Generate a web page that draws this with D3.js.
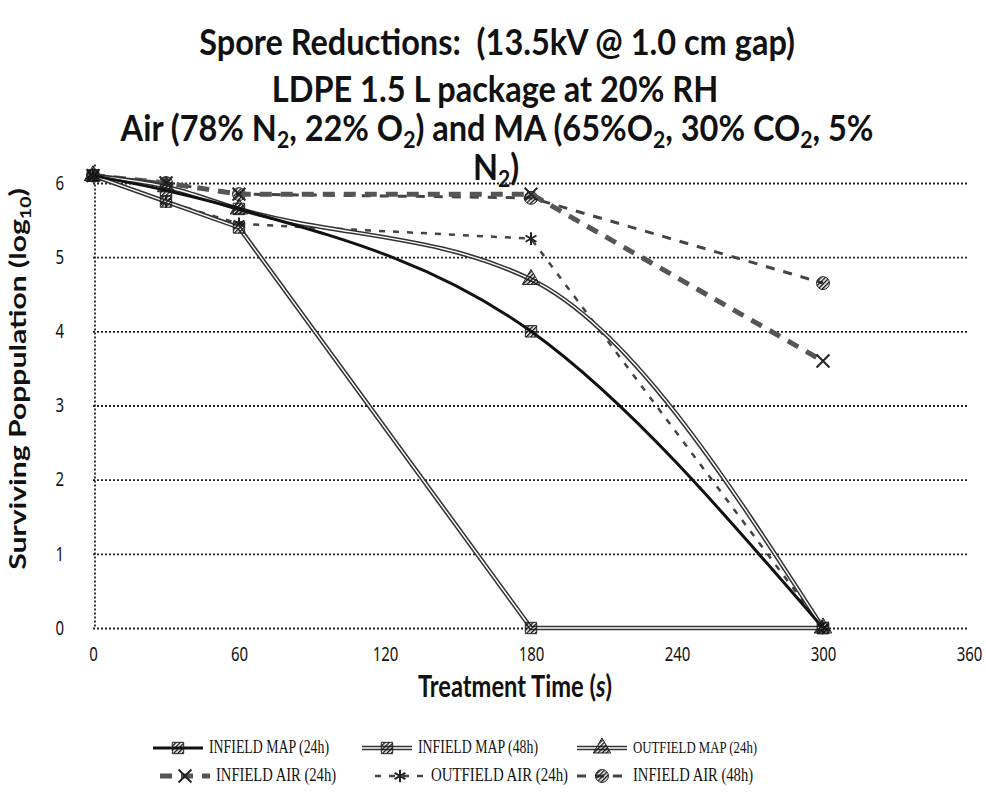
<!DOCTYPE html>
<html>
<head>
<meta charset="utf-8">
<script src="https://cdnjs.cloudflare.com/ajax/libs/d3/7.8.5/d3.min.js"></script>
<style>
  body { margin: 0; background: #fff; }
  text { fill: #111; }
</style>
</head>
<body>
<div id="chart-area"></div>
<script>
// data (log10 surviving population)
let times = [0, 30, 60, 180, 300]
let infieldMap24 = [6.1, 5.9, 5.65, 4.0, 0]
let infieldMap48 = [6.1, 5.75, 5.4, 0, 0]
let outfieldMap24 = [6.1, 5.95, 5.65, 4.7, 0]
let infieldAir24 = [6.1, 6.0, 5.85, 5.85, 3.6]
let outfieldAir24 = [6.1, 5.75, 5.45, 5.25, 0]
let infieldAir48 = [6.1, 6.0, 5.85, 5.8, 4.65]
let seriesNames = ["INFIELD MAP (24h)", "INFIELD MAP (48h)", "OUTFIELD MAP (24h)",
  "INFIELD AIR (24h)", "OUTFIELD AIR (24h)", "INFIELD AIR (48h)"]
let xTicks = [0, 60, 120, 180, 240, 300, 360]
let yTicks = [0, 1, 2, 3, 4, 5, 6]

let svg = d3.select("#chart-area").append("svg")
  .attr("width", 986)
  .attr("height", 793)

// hatch pattern to mimic the scanned markers
let defs = svg.append("defs")
defs.append("pattern")
  .attr("id", "hatch")
  .attr("width", 3)
  .attr("height", 3)
  .attr("patternUnits", "userSpaceOnUse")
  .attr("patternTransform", "rotate(45)")
  .append("rect")
    .attr("width", 1.4)
    .attr("height", 3)
    .attr("fill", "#111")

let x = d3.scaleLinear().domain([0, 360]).range([93, 969])
let y = d3.scaleLinear().domain([0, 6]).range([628, 183])

// the scan is stretched vertically, so text is drawn a bit tall
let stretch = 1.3
let titleStretch = 1.1
let titleFont = "Lato, 'Open Sans', sans-serif"

// scale a text's font so it spans a given width
const fitText = (sel, target, size) => {
  sel.style("font-size", size + "px")
  let w = sel.node().getComputedTextLength()
  let s = size * target / w
  sel.style("font-size", s + "px")
  return s
}

// text with subscripts: parts = [[str, isSub], ...]
const richText = (sel, parts) => {
  let afterSub = false
  parts.forEach(p => {
    if (p[1]) {
      sel.append("tspan").attr("dy", "0.3em").style("font-size", "65%").text(p[0])
      afterSub = true
    } else {
      sel.append("tspan").attr("dy", afterSub ? "-0.195em" : null).text(p[0])
      afterSub = false
    }
  })
}

const titleLine = (xPos, yPos) => {
  return svg.append("text")
    .attr("transform", "translate(" + xPos + "," + yPos + ") scale(1," + titleStretch + ")")
    .attr("text-anchor", "middle")
    .style("font-family", titleFont).style("font-weight", "bold")
}

// titles (Excel wrapped the long third line)
let t1 = titleLine(497, 55).attr("xml:space", "preserve")
  .text("Spore Reductions:  (13.5kV @ 1.0 cm gap)")
let titleSize = fitText(t1, 596, 26)

titleLine(495, 102).style("font-size", titleSize + "px")
  .text("LDPE 1.5 L package at 20% RH")

let t3 = titleLine(497, 141).style("font-size", titleSize + "px")
richText(t3, [["Air (78% N", 0], ["2", 1], [", 22% O", 0], ["2", 1], [") and MA (65%O", 0], ["2", 1],
  [", 30% CO", 0], ["2", 1], [", 5%", 0]])

let t4 = titleLine(496, 180).style("font-size", titleSize + "px")
richText(t4, [["N", 0], ["2", 1], [")", 0]])

// gridlines + y axis
let yAxisGroup = svg.append("g")
  .attr("transform", "translate(" + x(0) + ",0)")
  .call(d3.axisLeft(y).tickValues(yTicks).tickFormat(d3.format("d"))
    .tickSize(-(x(360) - x(0))).tickPadding(29))
yAxisGroup.select(".domain").remove()
yAxisGroup.selectAll(".tick line")
  .attr("stroke", "#222")
  .attr("stroke-width", 1.8)
  .attr("stroke-dasharray", "2,2")
yAxisGroup.selectAll(".tick text")
  .attr("transform", "scale(1," + stretch + ")")
  .style("font-family", "'Noto Sans', sans-serif")
  .style("font-size", "15px")
  .attr("fill", "#222")

svg.append("line")
  .attr("x1", x(0) + 2).attr("x2", x(0) + 2)
  .attr("y1", y(6.25)).attr("y2", y(0))
  .attr("stroke", "#222")
  .attr("stroke-width", 1.8)
  .attr("stroke-dasharray", "2,2")

let xAxisGroup = svg.append("g")
  .attr("transform", "translate(0," + y(0) + ")")
  .call(d3.axisBottom(x).tickValues(xTicks).tickSize(0).tickPadding(15))
xAxisGroup.select(".domain").remove()
xAxisGroup.selectAll(".tick text")
  .attr("transform", "scale(1," + stretch + ")")
  .style("font-family", "'Noto Sans', sans-serif")
  .style("font-size", "15px")
  .attr("fill", "#222")

// axis titles
let yLabel = svg.append("text")
  .attr("text-anchor", "middle")
  .style("font-family", titleFont).style("font-weight", "bold")
richText(yLabel, [["Surviving Poppulation (log", 0], ["10", 1], [")", 0]])
fitText(yLabel, 382 / stretch, 18)
yLabel.attr("transform", "translate(26,379) rotate(-90) scale(" + stretch + ",1)")

let xLabel = svg.append("text")
  .attr("transform", "translate(515,697) scale(1," + stretch + ")")
  .attr("text-anchor", "middle")
  .style("font-family", titleFont).style("font-weight", "bold")
xLabel.append("tspan").text("Treatment Time (")
xLabel.append("tspan").style("font-style", "italic").text("s")
xLabel.append("tspan").text(")")
fitText(xLabel, 194, 18)

// series styles
let styles = [
  { values: infieldMap24, outline: false, width: 3, color: "#111", dash: null, marker: d3.symbolSquare, fill: "url(#hatch)", curve: d3.curveMonotoneX },
  { values: infieldMap48, outline: true, width: 4.5, color: "#333", dash: null, marker: d3.symbolSquare, fill: "url(#hatch)", curve: d3.curveLinear },
  { values: outfieldMap24, outline: true, width: 4.5, color: "#333", dash: null, marker: d3.symbolTriangle, fill: "url(#hatch)", curve: d3.curveMonotoneX },
  { values: infieldAir24, outline: false, width: 5, color: "#555", dash: "12,9", marker: d3.symbolX, fill: "none", curve: d3.curveLinear },
  { values: outfieldAir24, outline: false, width: 2.5, color: "#444", dash: "6,8", marker: d3.symbolAsterisk, fill: "none", curve: d3.curveLinear },
  { values: infieldAir48, outline: false, width: 3, color: "#444", dash: "9,9", marker: d3.symbolCircle, fill: "url(#hatch)", curve: d3.curveLinear }
]

const drawLine = (g, s, pts, curve) => {
  let line = d3.line().x(d => d[0]).y(d => d[1]).curve(curve)
  g.append("path")
    .attr("d", line(pts))
    .attr("fill", "none")
    .attr("stroke", s.color)
    .attr("stroke-width", s.width)
    .attr("stroke-dasharray", s.dash)
  if (s.outline) {
    g.append("path")
      .attr("d", line(pts))
      .attr("fill", "none")
      .attr("stroke", "#fff")
      .attr("stroke-width", 1.4)
  }
}

const drawMarker = (g, s, px, py) => {
  let stroked = s.marker === d3.symbolX || s.marker === d3.symbolAsterisk
  g.append("path")
    .attr("d", d3.symbol().type(s.marker).size(stroked ? 110 : 130)())
    .attr("transform", "translate(" + px + "," + py + ")")
    .attr("fill", stroked ? "none" : s.fill)
    .attr("stroke", "#222")
    .attr("stroke-width", stroked ? 2 : 1)
}

let plot = svg.append("g")
styles.slice().reverse().forEach(s => {
  let pts = times.map((t, i) => [x(t), y(s.values[i])])
  let g = plot.append("g")
  drawLine(g, s, pts, s.curve)
  pts.forEach(p => drawMarker(g, s, p[0], p[1]))
})

// legend
let legendPos = [[153, 748], [362, 748], [577, 748], [160, 776], [375, 776], [577, 776]]
styles.forEach((s, i) => {
  let lx = legendPos[i][0], ly = legendPos[i][1]
  let g = svg.append("g")
  drawLine(g, s, [[lx, ly], [lx + 50, ly]], d3.curveLinear)
  drawMarker(g, s, lx + 25, ly)
  let t = g.append("text")
    .attr("transform", "translate(" + (lx + 56) + "," + (ly + 5) + ") scale(1," + stretch + ")")
    .style("font-family", "'Liberation Serif', serif")
    .attr("fill", "#333")
    .text(seriesNames[i])
  fitText(t, i === 2 ? 124 : (i === 4 ? 137 : 120), 14)
})
</script>
</body>
</html>
